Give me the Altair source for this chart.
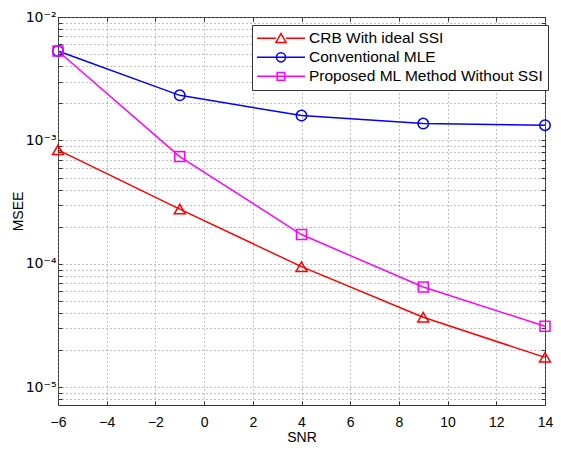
import altair as alt
import pandas as pd

snr = [-6, -1, 4, 9, 14]
series = ["CRB With ideal SSI", "Conventional MLE", "Proposed ML Method Without SSI"]
crb = [8.4e-4, 2.78e-4, 9.5e-5, 3.7e-5, 1.75e-5]
mle = [5.3e-3, 2.32e-3, 1.59e-3, 1.37e-3, 1.33e-3]
prop = [5.3e-3, 7.4e-4, 1.73e-4, 6.5e-5, 3.13e-5]
colors = ["#ff0000", "#0000ff", "#ff00ff"]
shapes = ["triangle-up", "circle", "square"]
sizes = [120, 100, 64]

x_ticks = [-6, -4, -2, 0, 2, 4, 6, 8, 10, 12, 14]
y_grid = [m * d for d in [1e-6, 1e-5, 1e-4, 1e-3] for m in range(1, 10)] + [1e-2]
y_grid = [v for v in y_grid if v >= 7.2e-6]

rows = []
for name, vals in zip(series, [crb, mle, prop]):
    for x, y in zip(snr, vals):
        rows.append({"SNR": x, "MSEE": y, "series": name})
df = pd.DataFrame(rows)

FONT = "Liberation Sans"
INWARD = {"expr": "-4"}

leg_paths = [
    "M-1,0 L-0.21,0 M0.21,0 L1,0 M-0.21,0.17 L0,-0.2 L0.21,0.17 Z",
    "M-1,0 L-0.19,0 M0.19,0 L1,0 M-0.19,0 A0.19,0.19 0 1,0 0.19,0 A0.19,0.19 0 1,0 -0.19,0 M-0.19,0 L0.19,0",
    "M-1,0 L1,0 M-0.16,-0.16 L0.16,-0.16 L0.16,0.16 L-0.16,0.16 Z",
]

x_scale = alt.Scale(domain=[-6, 14], nice=False, zero=False)
y_scale = alt.Scale(type="log", domain=[7.2e-6, 1e-2], nice=False)

x_enc = alt.X(
    "SNR:Q",
    scale=x_scale,
    axis=alt.Axis(
        values=x_ticks, title="SNR", labelExpr="replace(datum.label, '-', '\u2212')",
        grid=True, gridDash=[1, 3], gridColor="#808080", gridOpacity=1,
        ticks=True, tickSize=INWARD, tickColor="#333", domain=False,
        labelFont=FONT, labelFontSize=14, labelFlush=False,
        labelColor="#000", titleFont=FONT, titleFontSize=14, titleFontWeight="normal",
        titleColor="#000", labelPadding=14, titlePadding=1,
    ),
)
y_label = (
    "datum.value == 0.01 ? '10\u207b\u00b2' : datum.value == 0.001 ? '10\u207b\u00b3' : "
    "datum.value == 0.0001 ? '10\u207b\u2074' : datum.value == 0.00001 ? '10\u207b\u2075' : ''"
)
y_enc = alt.Y(
    "MSEE:Q",
    scale=y_scale,
    axis=alt.Axis(
        values=y_grid, title="MSEE", labelExpr=y_label,
        grid=True, gridDash=[1, 3], gridColor="#808080", gridOpacity=1,
        ticks=True, tickSize=INWARD, tickColor="#333", domain=False,
        labelFont="DejaVu Sans", labelFontSize=14,
        labelColor="#000", titleFont=FONT, titleFontSize=14, titleFontWeight="normal",
        titleColor="#000", labelPadding=6, titlePadding=0, labelOverlap=False,
        labelFlush=False,
    ),
)

legend_props = dict(
    title=None, orient="none", legendX=194, legendY=8,
    strokeColor="#333", fillColor="white", padding=4,
    labelFont=FONT, labelFontSize=15.5, labelColor="#000",
    symbolSize=2304, symbolStrokeWidth=1.5, clipHeight=18.7,
    labelOffset=3, rowPadding=0, labelLimit=400,
)

lines = alt.Chart(df).mark_line(strokeWidth=1.5).encode(
    x=x_enc,
    y=y_enc,
    color=alt.Color("series:N", scale=alt.Scale(domain=series, range=colors), legend=None),
    order=alt.Order("SNR:Q"),
)

points = alt.Chart(df).mark_point(filled=False, strokeWidth=1.5, opacity=1).encode(
    x=alt.X("SNR:Q", scale=x_scale, axis=alt.Axis(
        orient="top", values=x_ticks, labels=False, title=None, grid=False,
        ticks=True, tickSize=INWARD, tickColor="#333", domain=False)),
    y=alt.Y("MSEE:Q", scale=y_scale, axis=alt.Axis(
        orient="right", values=y_grid, labels=False, title=None, grid=False,
        ticks=True, tickSize=INWARD, tickColor="#333", domain=False)),
    color=alt.Color("series:N", scale=alt.Scale(domain=series, range=colors), legend=None),
    shape=alt.Shape("series:N", scale=alt.Scale(domain=series, range=shapes), legend=None),
    size=alt.Size("series:N", scale=alt.Scale(domain=series, range=sizes), legend=None),
)

legend_layer = alt.Chart(df).transform_filter("false").mark_point(
    filled=False, strokeWidth=1.5, opacity=1
).encode(
    x=alt.X("SNR:Q", scale=x_scale, axis=None),
    y=alt.Y("MSEE:Q", scale=y_scale, axis=None),
    color=alt.Color("series:N", scale=alt.Scale(domain=series, range=colors),
                    legend=alt.Legend(**legend_props)),
    shape=alt.Shape("series:N", scale=alt.Scale(domain=series, range=leg_paths),
                    legend=alt.Legend(**legend_props)),
)

chart = (
    alt.layer(lines, points, legend_layer)
    .resolve_scale(color="independent", shape="independent")
    .resolve_axis(x="independent", y="independent")
    .properties(
        width=487, height=388,
        autosize=alt.AutoSizeParams(type="none"),
        padding={"left": 50, "top": 9, "right": 8, "bottom": 40},
        background="white",
    )
    .configure_view(stroke="#333333", strokeWidth=1)
)

chart.save("out.html", embed_options={"renderer": "svg", "actions": False})
